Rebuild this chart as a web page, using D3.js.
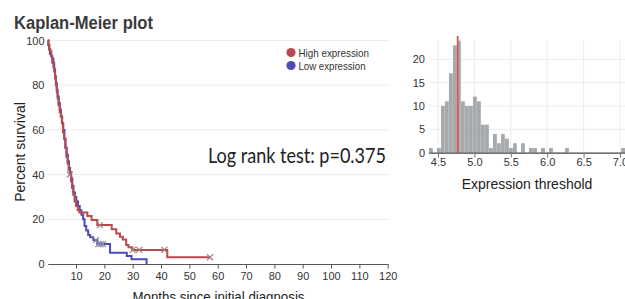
<!DOCTYPE html>
<html><head><meta charset="utf-8">
<script src="https://cdn.jsdelivr.net/npm/d3@7"></script>
<style>body{margin:0;background:#fff}svg{display:block}</style>
</head><body>
<svg id="c" width="625" height="299" font-family="Liberation Sans, Arial, sans-serif"></svg>
<script>
// ---- Kaplan-Meier data (months, percent survival) ----
const highTimes = [0,0.3,0.6,1.0,1.3,1.6,2.0,2.3,2.6,2.9,3.2,3.5,3.8,4.2,4.6,5.0,5.4,5.8,6.2,6.6,7.0,7.4,7.8,8.2,8.6,9.0,9.5,10.0,10.6,11.2,14.0,15.5,17.5,22.6,24.2,25.5,26.5,27.7,28.5,29.8,42.2,57.3];
const highSurv  = [100,98,96,95,93,90,88,86,83,80,77,74,71,68,66,63,59,56,52,48,45,42,40,37,34,31,28,26,24,23,21.5,19.7,17.4,15.5,13.7,12.2,11,8.5,7.5,6.3,3,3];
const highCensor = [7.8,18.4,30.0,32.3,41.2,57.3];
const lowTimes = [0,0.2,0.5,0.8,1.2,1.6,2.0,2.3,2.6,2.9,3.2,3.5,3.9,4.3,4.7,5.1,5.5,5.9,6.3,6.7,7.1,7.5,7.9,8.3,8.7,9.1,9.6,10.1,10.7,11.3,11.9,12.5,13.0,13.6,14.3,15.0,16.1,17.5,22.0,27.9,29.6,34.9];
const lowSurv  = [100,98,96,94,93,92,90,87,84,81,78,75,72,69,66,63,60,56,52,49,46,43,41,38,35,32,30,28,26,24,22,20,17,15,13,12,10.7,8.9,5,3.6,2.1,0];
const lowCensor = [17.0,17.9,18.7,19.5];
const seriesNames = ["High expression","Low expression"];
const kmXTicks = [10,20,30,40,50,60,70,80,90,100,110,120];
const kmYTicks = [0,20,40,60,80,100];

// ---- Histogram data (bin start, count) ----
const binWidth = 0.055;
const binStarts = [4.376,4.486,4.541,4.596,4.651,4.706,4.761,4.816,4.871,4.926,4.981,5.036,5.091,5.146,5.201,5.256,5.311,5.366,5.421,5.476,5.531,5.641,5.751,5.806,5.916,6.026,6.246,7.016];
const binCounts = [1,1,10,11,17,23,24,11,10,10,12,11,6,6,1,4,2,4,3,1,2,2,1,1,1,1,1,1];
const threshold = 4.77;
const histXTicks = [4.5,5.0,5.5,6.0,6.5,7.0];
const histYTicks = [0,5,10,15,20];

const svg = d3.select("#c");
const red = "#b84a4c", blue = "#4c4cb8";

// ===== KM plot =====
const x = d3.scaleLinear().domain([0,120]).range([47.7,387.7]);
const y = d3.scaleLinear().domain([0,100]).range([264,40.5]);

svg.append("text").attr("x",14).attr("y",29).attr("font-size",17.5).attr("font-weight","bold")
  .attr("textLength",139).attr("lengthAdjust","spacingAndGlyphs")
  .attr("fill","#3a3a3a").text("Kaplan-Meier plot");

// gridlines
svg.append("g").selectAll("line").data(kmYTicks.filter(d=>d>0)).join("line")
  .attr("x1",47.7).attr("x2",390).attr("y1",d=>y(d)).attr("y2",d=>y(d))
  .attr("stroke","#ececec").attr("stroke-width",1);

// y tick labels
svg.append("g").selectAll("text").data(kmYTicks).join("text")
  .attr("x",44.5).attr("y",d=>y(d)+4).attr("text-anchor","end").attr("font-size",11).attr("fill","#333").text(d=>d);

// x axis
const xa = svg.append("g").attr("transform","translate(0,264)")
  .call(d3.axisBottom(x).tickValues(kmXTicks).tickSize(4.5).tickSizeOuter(0).tickPadding(4));
xa.attr("font-family",null);
xa.select(".domain").attr("stroke","#555").attr("stroke-width",1.2);
xa.selectAll(".tick line").attr("stroke","#555");
xa.selectAll(".tick text").attr("font-size",11).attr("fill","#333");

svg.append("text").attr("x",218.5).attr("y",302).attr("text-anchor","middle").attr("font-size",14).attr("fill","#222")
  .attr("textLength",172).attr("lengthAdjust","spacingAndGlyphs")
  .text("Months since initial diagnosis");
svg.append("text").attr("transform","translate(25,152) rotate(-90)").attr("text-anchor","middle").attr("font-size",14).attr("fill","#222")
  .text("Percent survival");

const line = d3.line().x(d=>x(d[0])).y(d=>y(d[1])).curve(d3.curveStepAfter);
const low = lowTimes.map((t,i)=>[t,lowSurv[i]]);
const high = highTimes.map((t,i)=>[t,highSurv[i]]);
function survAt(times,surv,t){let s=surv[0];for(let i=0;i<times.length;i++){if(times[i]<=t)s=surv[i];}return s;}

svg.append("path").attr("d",line(low)).attr("fill","none").attr("stroke",blue).attr("stroke-width",2);
svg.append("path").attr("d",line(high)).attr("fill","none").attr("stroke",red).attr("stroke-width",2);

function censor(times,surv,cs,col){
  const g=svg.append("g");
  cs.forEach(t=>{
    const cx=x(t), cy=y(survAt(times,surv,t)), r=3;
    g.append("path").attr("d",`M${cx-r},${cy-r}L${cx+r},${cy+r}M${cx-r},${cy+r}L${cx+r},${cy-r}`)
      .attr("stroke",col).attr("stroke-width",1.2).attr("fill","none");
  });
}
censor(lowTimes,lowSurv,lowCensor,"#8a86a0");
censor(highTimes,highSurv,highCensor,"#9a8080");

// legend
const lg = svg.append("g");
[red,blue].forEach((c,i)=>{
  lg.append("circle").attr("cx",291).attr("cy",52.5+i*13).attr("r",4.6).attr("fill",c);
  lg.append("text").attr("x",298.5).attr("y",56.5+i*13).attr("font-size",10.5).attr("fill","#333")
    .attr("textLength",i===0?70.5:67).attr("lengthAdjust","spacingAndGlyphs").text(seriesNames[i]);
});

svg.append("text").attr("x",208).attr("y",163).style("font-family","Lato, 'Open Sans', sans-serif").attr("font-size",20.5).attr("fill","#222")
  .attr("textLength",178).attr("lengthAdjust","spacingAndGlyphs")
  .text("Log rank test: p=0.375");

// ===== Histogram =====
const hx = d3.scaleLinear().domain([4.5,7.0]).range([438,620]);
const hy = d3.scaleLinear().domain([0,25]).range([152.6,36]);

svg.append("g").selectAll("line").data(histXTicks).join("line")
  .attr("x1",d=>hx(d)).attr("x2",d=>hx(d)).attr("y1",40).attr("y2",152.6).attr("stroke","#ececec");
svg.append("g").selectAll("line").data(histYTicks.filter(d=>d>0)).join("line")
  .attr("x1",429).attr("x2",625).attr("y1",d=>hy(d)).attr("y2",d=>hy(d)).attr("stroke","#ececec");

svg.append("g").selectAll("rect").data(binStarts).join("rect")
  .attr("x",d=>hx(d)).attr("width",d=>hx(d+binWidth)-hx(d)-0.2)
  .attr("y",(d,i)=>hy(binCounts[i])).attr("height",(d,i)=>hy(0)-hy(binCounts[i]))
  .attr("fill","#a7aaad");

svg.append("line").attr("x1",hx(threshold)).attr("x2",hx(threshold)).attr("y1",36).attr("y2",152.6)
  .attr("stroke","#d9534f").attr("stroke-width",1.8);

const hxa = svg.append("g").attr("transform","translate(0,152.6)")
  .call(d3.axisBottom(hx).tickValues(histXTicks).tickFormat(d3.format(".1f")).tickSize(5).tickSizeOuter(0).tickPadding(1));
hxa.attr("font-family",null);
hxa.select(".domain").attr("d","M429,0.5H625").attr("stroke","#444").attr("stroke-width",1.2);
hxa.selectAll(".tick line").attr("stroke","#777");
hxa.selectAll(".tick text").attr("font-size",11).attr("fill","#333");

svg.append("g").selectAll("text").data(histYTicks).join("text")
  .attr("x",425).attr("y",d=>hy(d)+4).attr("text-anchor","end").attr("font-size",11).attr("fill","#333").text(d=>d);

svg.append("text").attr("x",527).attr("y",189).attr("text-anchor","middle").attr("font-size",14).attr("fill","#222")
  .text("Expression threshold");
</script>
</body></html>
